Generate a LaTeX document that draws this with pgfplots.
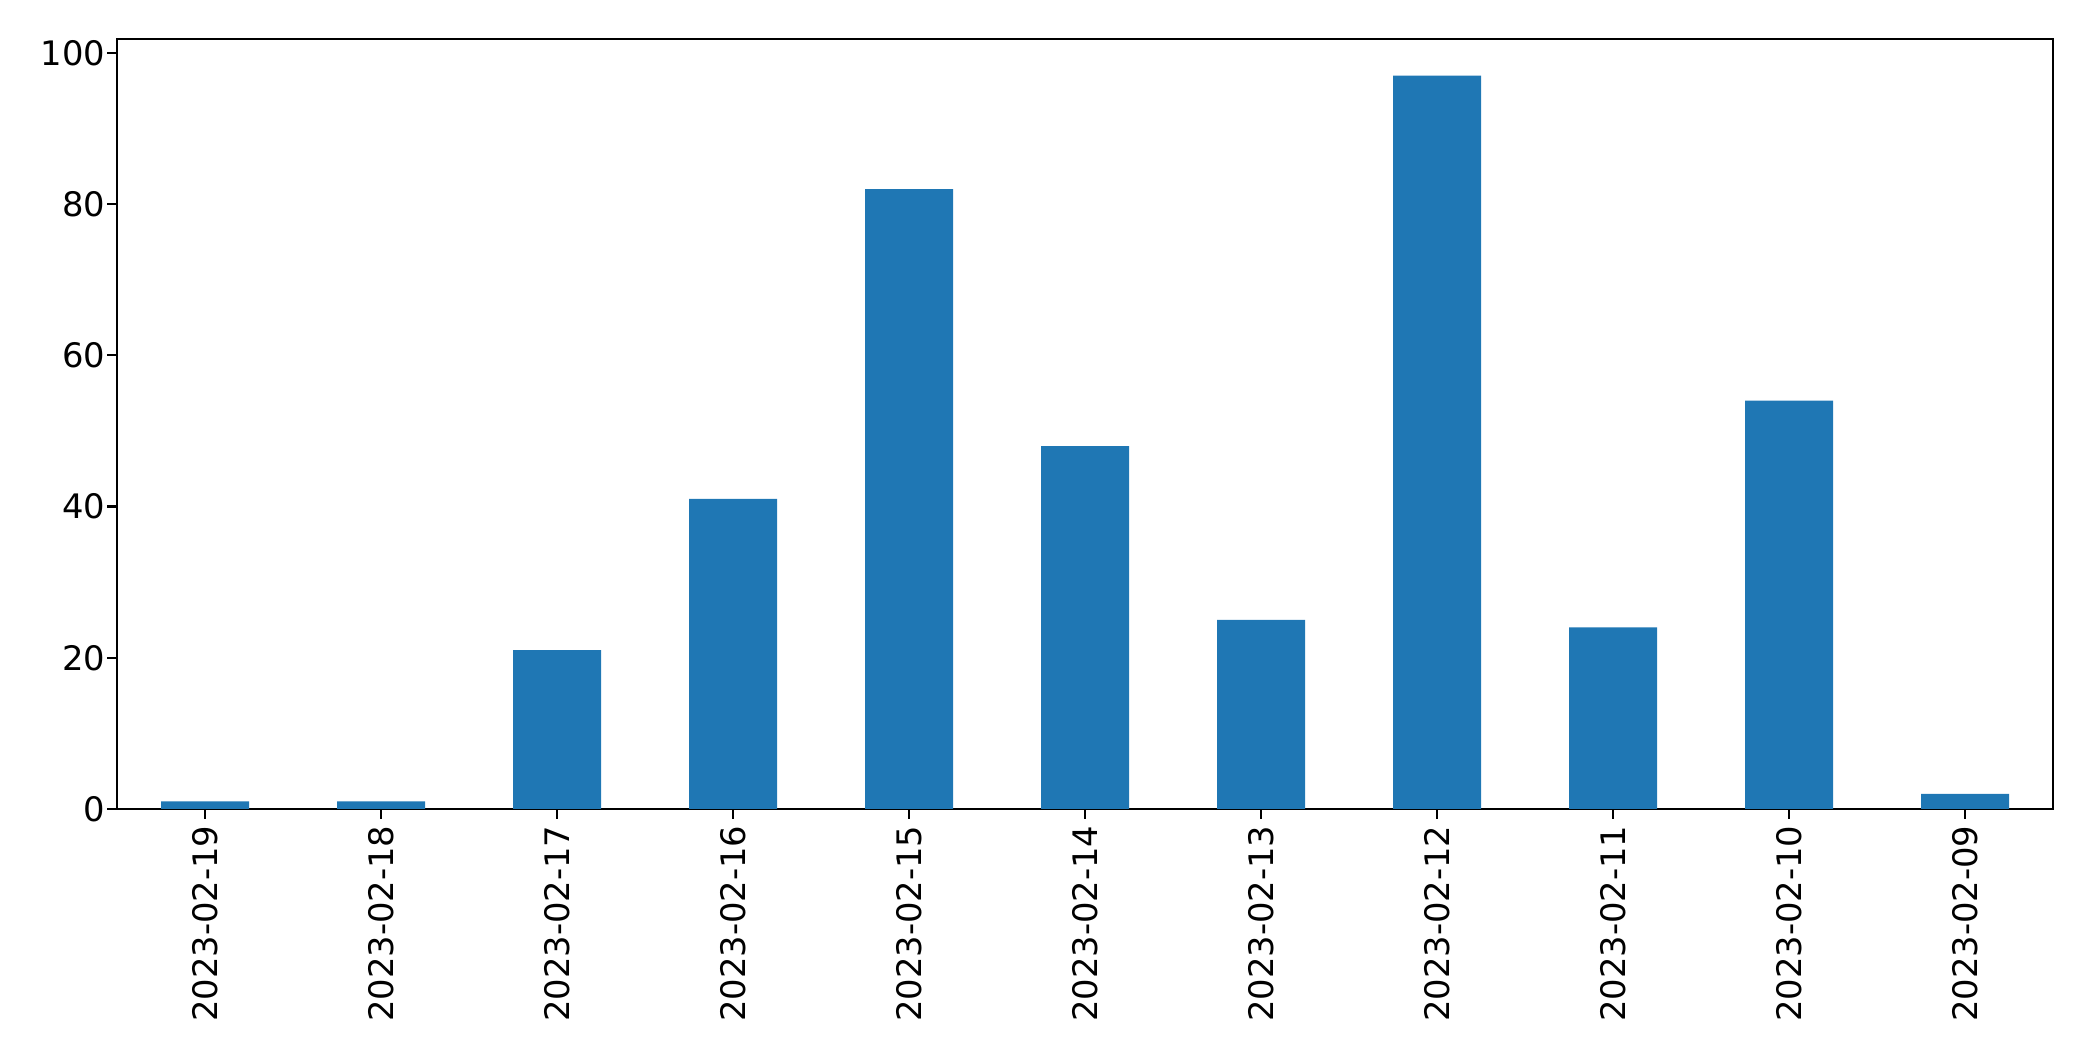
\documentclass[border=0pt]{standalone}
\usepackage{fontspec}
\setmainfont{DejaVu Sans}
\usepackage{pgfplots}
\pgfplotsset{compat=1.18}
\definecolor{mplblue}{HTML}{1F77B4}
\begin{document}
\begin{tikzpicture}
\begin{axis}[
  scale only axis,
  width=573.6pt, height=228.1pt,
  xmin=-0.5, xmax=10.5, ymin=0, ymax=101.85,
  axis line style={line width=0.66pt},
  tick style={line width=0.66pt, black},
  major tick length=2.96pt,
  tick align=outside,
  xtick pos=lower, ytick pos=left,
  xtick={0,1,2,3,4,5,6,7,8,9,10},
  xticklabels={2023-02-19,2023-02-18,2023-02-17,2023-02-16,2023-02-15,2023-02-14,2023-02-13,2023-02-12,2023-02-11,2023-02-10,2023-02-09},
  x tick label style={rotate=90, anchor=east, inner sep=0pt, xshift=-1.8pt},
  ytick={0,20,40,60,80,100},
  y tick label style={anchor=east, inner sep=0pt, xshift=-0.3pt},
  /pgf/number format/assume math mode=true,
  clip=false,
]
\addplot[ybar, bar width=0.5, fill=mplblue, draw=none] coordinates {
  (0,1) (1,1) (2,21) (3,41) (4,82) (5,48) (6,25) (7,97) (8,24) (9,54) (10,2)
};
\coordinate (bl) at (rel axis cs:0,0);
\coordinate (tr) at (rel axis cs:1,1);
\end{axis}
\pgfresetboundingbox
\path[use as bounding box] ([shift={(-34.67pt,-74.67pt)}]bl) rectangle ([shift={(11.85pt,11.56pt)}]tr);
\end{tikzpicture}
\end{document}
